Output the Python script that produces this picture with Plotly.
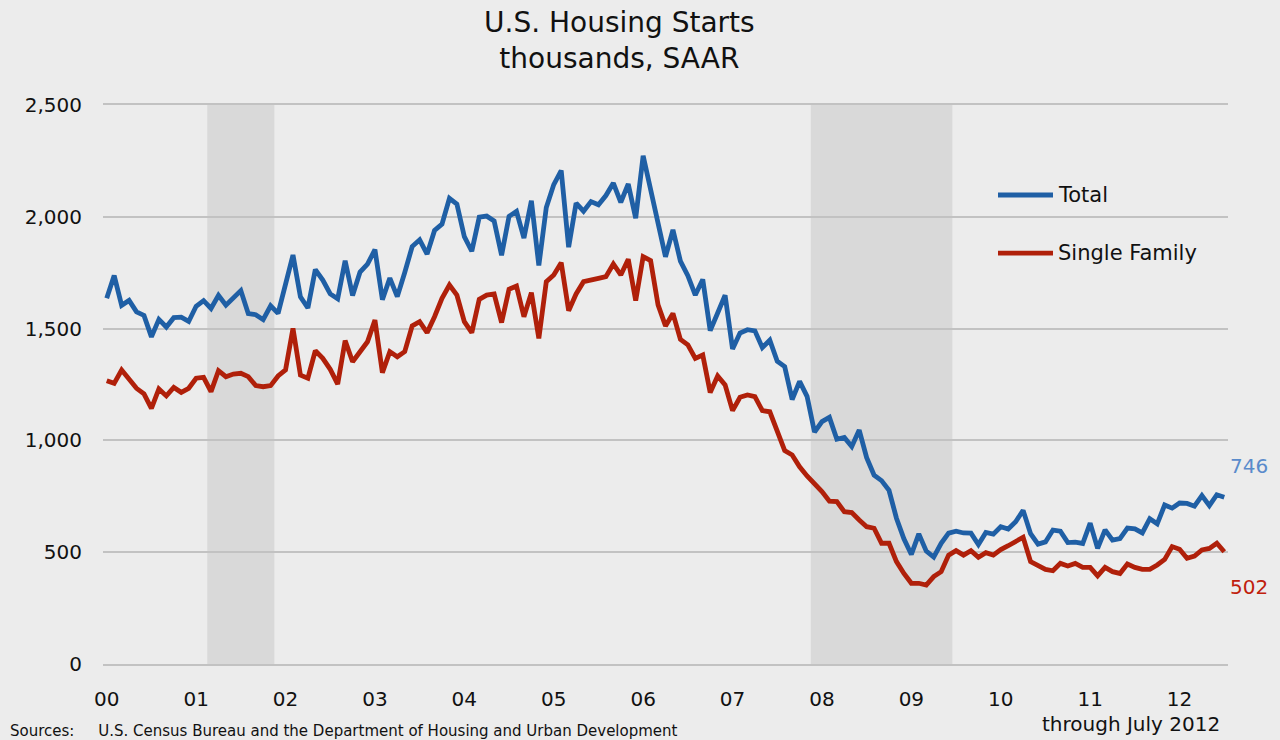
import plotly.graph_objects as go

# ---- data (thousands, SAAR), monthly Jan 2000 .. Jul 2012 ----
year_labels = ["00", "01", "02", "03", "04", "05", "06", "07", "08", "09", "10", "11", "12"]

total = [
    1636, 1737, 1604, 1626, 1575, 1559, 1463, 1541, 1507, 1549, 1551, 1532,  # 2000
    1600, 1625, 1590, 1649, 1605, 1636, 1670, 1567, 1562, 1540, 1602, 1568,  # 2001
    1698, 1829, 1642, 1592, 1764, 1717, 1655, 1633, 1804, 1648, 1753, 1788,  # 2002
    1853, 1629, 1726, 1643, 1751, 1867, 1897, 1833, 1939, 1967, 2083, 2057,  # 2003
    1911, 1846, 1998, 2003, 1981, 1828, 2002, 2024, 1905, 2072, 1782, 2042,  # 2004
    2144, 2207, 1864, 2061, 2025, 2068, 2054, 2095, 2151, 2065, 2147, 1994,  # 2005
    2273, 2119, 1969, 1821, 1942, 1802, 1737, 1650, 1720, 1491, 1570, 1649,  # 2006
    1409, 1480, 1495, 1490, 1415, 1448, 1354, 1330, 1183, 1264, 1197, 1037,  # 2007
    1084, 1103, 1005, 1013, 973, 1046, 923, 844, 820, 777, 652, 560,         # 2008
    490, 582, 505, 478, 540, 585, 594, 586, 585, 534, 588, 581,              # 2009
    614, 604, 636, 687, 583, 536, 546, 599, 594, 543, 545, 539,              # 2010
    630, 517, 600, 554, 561, 608, 604, 586, 650, 627, 711, 697,              # 2011
    720, 718, 706, 753, 708, 757, 746,                                       # 2012
]

single_family = [
    1267, 1255, 1315, 1273, 1233, 1208, 1143, 1230, 1199, 1237, 1215, 1233,  # 2000
    1278, 1282, 1218, 1312, 1285, 1297, 1300, 1285, 1245, 1240, 1245, 1288,  # 2001
    1315, 1501, 1292, 1278, 1401, 1367, 1318, 1252, 1446, 1352, 1397, 1441,  # 2002
    1538, 1303, 1397, 1374, 1397, 1512, 1531, 1482, 1553, 1635, 1695, 1650,  # 2003
    1531, 1482, 1631, 1650, 1655, 1527, 1676, 1690, 1553, 1661, 1456, 1710,  # 2004
    1740, 1795, 1580, 1655, 1710, 1720, 1725, 1732, 1789, 1740, 1810, 1625,  # 2005
    1822, 1804, 1606, 1512, 1568, 1452, 1427, 1367, 1382, 1214, 1288, 1248,  # 2006
    1133, 1193, 1203, 1196, 1133, 1128, 1047, 954, 935, 882, 841, 808,       # 2007
    771, 728, 726, 681, 677, 644, 614, 607, 540, 540, 458, 405,              # 2008
    361, 361, 353, 391, 413, 487, 507, 487, 507, 477, 498, 487,              # 2009
    512, 529, 547, 567, 458, 443, 423, 417, 450, 438, 450, 432,              # 2010
    432, 394, 432, 413, 405, 447, 432, 423, 423, 443, 468, 525,              # 2011
    513, 473, 483, 510, 517, 540, 502,                                       # 2012
]

# month index (0 = Jan 2000)
months = list(range(len(total)))
year_tick_months = [12 * i for i in range(len(year_labels))]

# recessions: first and last month index (Mar 2001-Nov 2001, Dec 2007-Jun 2009)
recessions = [(14, 22), (95, 113)]

BLUE = "#1f5fa5"
RED = "#b0200a"
GRID = "#c2c2c2"
FONT = "DejaVu Sans"

fig = go.Figure()

fig.add_trace(go.Scatter(x=months, y=total, mode="lines", name="Total",
                         line=dict(color=BLUE, width=4.8), showlegend=False))
fig.add_trace(go.Scatter(x=months, y=single_family, mode="lines", name="Single Family",
                         line=dict(color=RED, width=4.8), showlegend=False))

for a, b in recessions:
    fig.add_shape(type="rect", xref="x", yref="y", x0=a - 0.5, x1=b + 0.5, y0=0, y1=2500,
                  fillcolor="#d9d9d9", line=dict(width=0), layer="below")

# manual legend
legend_items = [("Total", BLUE, 0.839), ("Single Family", RED, 0.735)]
for name, color, yp in legend_items:
    fig.add_shape(type="line", xref="paper", yref="paper",
                  x0=(998 - 103) / 1125, x1=(1053 - 103) / 1125, y0=yp, y1=yp,
                  line=dict(color=color, width=4.8))
    fig.add_annotation(xref="paper", yref="paper", x=(1056 - 103) / 1125, y=yp,
                       text=name, showarrow=False, xanchor="left", yanchor="middle",
                       font=dict(family=FONT, size=21, color="#111111"))

# end labels
fig.add_annotation(x=months[-1], y=total[-1], text=str(total[-1]), showarrow=False,
                   xanchor="left", yanchor="middle", xshift=4, yshift=31,
                   font=dict(family=FONT, size=20, color="#5a8bcb"))
fig.add_annotation(x=months[-1], y=single_family[-1], text=str(single_family[-1]), showarrow=False,
                   xanchor="left", yanchor="middle", xshift=4, yshift=-35,
                   font=dict(family=FONT, size=20, color="#c0200c"))

# title
fig.add_annotation(xref="paper", yref="paper", x=(619 - 103) / 1125, y=1 + (105 - 40) / 559,
                   text="U.S. Housing Starts<br>thousands, SAAR", showarrow=False,
                   xanchor="center", yanchor="middle", align="center",
                   font=dict(family=FONT, size=28, color="#111111"))

# notes
fig.add_annotation(xref="paper", yref="paper", x=(1222 - 103) / 1125, y=-(724 - 664) / 559,
                   text="through July 2012", showarrow=False, xanchor="right", yanchor="middle",
                   font=dict(family=FONT, size=20, color="#111111"))
fig.add_annotation(xref="paper", yref="paper", x=(8 - 103) / 1125, y=-(731 - 664) / 559,
                   text="Sources:     U.S. Census Bureau and the Department of Housing and Urban Development",
                   showarrow=False, xanchor="left", yanchor="middle",
                   font=dict(family=FONT, size=15, color="#111111"))

fig.update_layout(
    width=1280, height=740,
    margin=dict(l=103, r=52, t=105, b=76),
    paper_bgcolor="#ececec", plot_bgcolor="#ececec",
    font=dict(family=FONT, size=20, color="#111111"),
    showlegend=False,
)
fig.update_xaxes(range=[-0.5, 150.5], tickvals=year_tick_months, ticktext=year_labels,
                 showgrid=False, zeroline=False, showline=True, linecolor=GRID, linewidth=2,
                 mirror=True, ticks="", ticklabelstandoff=16, tickfont=dict(size=20))
fig.update_yaxes(range=[0, 2500], tickvals=[0, 500, 1000, 1500, 2000, 2500],
                 ticktext=["0", "500", "1,000", "1,500", "2,000", "2,500"],
                 showgrid=True, gridcolor=GRID, gridwidth=2, zeroline=False,
                 showline=False, ticks="", ticklabelstandoff=20, tickfont=dict(size=20))

fig.write_html("out.html", config={"displayModeBar": False},
               post_script="document.body.style.margin='0px';document.body.style.overflow='hidden';")
